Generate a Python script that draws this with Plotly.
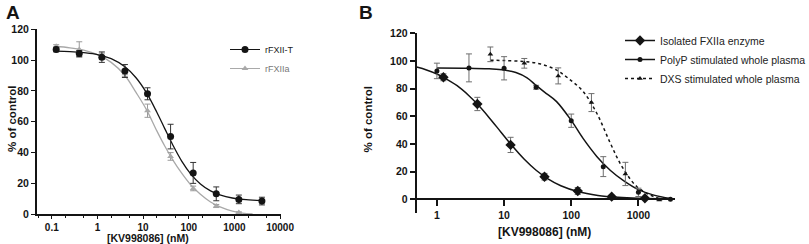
import plotly.graph_objects as go

# ---------------- Panel A data ----------------
a_t_conc = [0.125, 0.4, 1.25, 4, 12.5, 40, 125, 400, 1250, 4000]
a_t_val = [106.9, 104.2, 101.9, 92.9, 78.1, 50.3, 26.7, 13.1, 9.5, 8.4]
a_t_err = [1.5, 2.0, 3.4, 4.2, 3.9, 8.0, 6.8, 4.5, 2.8, 2.5]

a_a_conc = [0.125, 0.4, 1.25, 4, 12.5, 40, 125, 400, 1250]
a_a_val = [109.0, 106.9, 102.5, 91.2, 67.1, 37.4, 16.6, 5.2, 0.9]
a_a_err = [1.0, 5.0, 2.0, 2.0, 4.3, 2.5, 1.5, 1.0, 0.5]

# fitted curves
a_t_fit_x = [0.12, 0.25, 0.5, 1, 2, 4, 7, 12, 20, 30, 45, 70, 110, 180, 300, 500, 900, 1800, 4000]
a_t_fit_y = [105.8, 105.5, 104.8, 103.6, 100.9, 95.6, 88.5, 78.5, 66.1, 55.3, 44.7, 34.4, 26.1, 19.5, 15.0, 12.2, 10.4, 9.3, 8.7]
a_a_fit_x = [0.12, 0.25, 0.5, 1, 2, 4, 7, 12, 20, 30, 45, 70, 110, 180, 300, 500, 900, 1500, 2500]
a_a_fit_y = [109.0, 108.0, 106.5, 103.5, 98.5, 90.0, 79.0, 67.5, 54.0, 44.0, 35.0, 26.5, 19.0, 12.8, 7.8, 4.5, 1.9, 0.6, 0.0]

# ---------------- Panel B data ----------------
iso_conc = [1.25, 4, 12.5, 40, 125, 400, 1250]
iso_val = [88.2, 68.9, 39.3, 16.3, 6.0, 1.9, 0.7]
iso_err = [2.5, 4.8, 5.5, 2.4, 2.5, 1.0, 0.5]

polyp_conc = [1, 3, 10, 30, 100, 300, 1000, 3000]
polyp_val = [92.8, 95.0, 94.7, 81.0, 56.8, 23.6, 5.0, 0.0]
polyp_err = [5.6, 10.1, 8.4, 1.4, 4.8, 7.2, 3.0, 0.0]

dxs_conc = [6.25, 20, 64, 200, 640, 2048]
dxs_val = [104.8, 98.3, 89.2, 69.9, 18.3, -0.5]
dxs_err = [5.3, 3.5, 5.8, 6.5, 8.4, 0.0]

iso_fit_x = [0.5, 0.7, 1, 1.25, 2, 3, 4, 6, 9, 13, 20, 30, 45, 70, 125, 250, 500, 1000, 3000]
iso_fit_y = [95.6, 93.5, 90.6, 88.2, 82.1, 74.9, 68.8, 59.0, 48.5, 39.0, 28.9, 21.0, 14.8, 9.8, 5.6, 2.8, 1.4, 0.7, 0.2]
polyp_fit_x = [1, 3, 6, 10, 15, 22, 30, 40, 60, 100, 150, 240, 380, 600, 1000, 1700, 3000]
polyp_fit_y = [95.0, 94.8, 94.3, 93.5, 91.6, 87.8, 82.3, 77.5, 70.8, 57.0, 44.0, 31.0, 21.0, 13.5, 7.0, 3.0, 0.5]
dxs_fit_x = [6.25, 10, 20, 35, 60, 90, 150, 240, 380, 570, 950, 1500, 2100]
dxs_fit_y = [100.5, 100.3, 99.6, 97.8, 93.5, 87.5, 78.0, 62.2, 40.8, 23.6, 9.1, 3.1, 0.3]

a_ticks_x = [0.1, 1, 10, 100, 1000, 10000]
a_ticks_x_text = ["0.1", "1", "10", "100", "1000", "10000"]
b_ticks_x = [1, 10, 100, 1000]
b_ticks_x_text = ["1", "10", "100", "1000"]
y_ticks = [0, 20, 40, 60, 80, 100, 120]

FONT = "Liberation Sans, Arial, sans-serif"
BLACK = "#141414"
GRAY = "#a9a9a9"

fig = go.Figure()

# ---- Panel A ----
fig.add_trace(go.Scatter(x=a_a_fit_x, y=a_a_fit_y, mode="lines", line=dict(color=GRAY, width=1.3, shape="spline"),
                         showlegend=False, xaxis="x", yaxis="y", hoverinfo="skip"))
fig.add_trace(go.Scatter(x=a_t_fit_x, y=a_t_fit_y, mode="lines", line=dict(color=BLACK, width=1.3, shape="spline"),
                         showlegend=False, xaxis="x", yaxis="y", hoverinfo="skip"))
fig.add_trace(go.Scatter(x=a_a_conc, y=a_a_val, mode="markers",
                         marker=dict(symbol="triangle-up", size=6, color=GRAY),
                         error_y=dict(type="data", array=a_a_err, color="#9a9a9a", thickness=1, width=3),
                         showlegend=False, xaxis="x", yaxis="y", cliponaxis=False))
fig.add_trace(go.Scatter(x=a_t_conc, y=a_t_val, mode="markers",
                         marker=dict(symbol="circle", size=7, color=BLACK),
                         error_y=dict(type="data", array=a_t_err, color="#333333", thickness=1, width=3),
                         showlegend=False, xaxis="x", yaxis="y", cliponaxis=False))
# legend A entries
fig.add_trace(go.Scatter(x=[None], y=[None], mode="lines+markers", name="rFXII-T",
                         line=dict(color=BLACK, width=1), marker=dict(symbol="circle", size=7, color=BLACK),
                         xaxis="x", yaxis="y", legend="legend"))
fig.add_trace(go.Scatter(x=[None], y=[None], mode="lines+markers", name="<span style='color:#777'>rFXIIa</span>",
                         line=dict(color=GRAY, width=1), marker=dict(symbol="triangle-up", size=6, color=GRAY),
                         xaxis="x", yaxis="y", legend="legend"))

# ---- Panel B ----
fig.add_trace(go.Scatter(x=dxs_fit_x, y=dxs_fit_y, mode="lines", line=dict(color=BLACK, width=1.5, dash="3px,3px", shape="spline"),
                         showlegend=False, xaxis="x2", yaxis="y2", hoverinfo="skip"))
fig.add_trace(go.Scatter(x=polyp_fit_x, y=polyp_fit_y, mode="lines", line=dict(color=BLACK, width=1.5, shape="spline"),
                         showlegend=False, xaxis="x2", yaxis="y2", hoverinfo="skip"))
fig.add_trace(go.Scatter(x=iso_fit_x, y=iso_fit_y, mode="lines", line=dict(color=BLACK, width=1.5, shape="spline"),
                         showlegend=False, xaxis="x2", yaxis="y2", hoverinfo="skip"))
fig.add_trace(go.Scatter(x=dxs_conc, y=dxs_val, mode="markers",
                         marker=dict(symbol="triangle-up", size=5, color=BLACK),
                         error_y=dict(type="data", array=dxs_err, color="#6e6e6e", thickness=1, width=3),
                         showlegend=False, xaxis="x2", yaxis="y2", cliponaxis=False))
fig.add_trace(go.Scatter(x=polyp_conc, y=polyp_val, mode="markers",
                         marker=dict(symbol="circle", size=5, color=BLACK),
                         error_y=dict(type="data", array=polyp_err, color="#6e6e6e", thickness=1, width=3),
                         showlegend=False, xaxis="x2", yaxis="y2", cliponaxis=False))
fig.add_trace(go.Scatter(x=iso_conc, y=iso_val, mode="markers",
                         marker=dict(symbol="diamond", size=8, color=BLACK),
                         error_y=dict(type="data", array=iso_err, color="#6e6e6e", thickness=1, width=3),
                         showlegend=False, xaxis="x2", yaxis="y2", cliponaxis=False))
# legend B entries
fig.add_trace(go.Scatter(x=[None], y=[None], mode="lines+markers", name="Isolated FXIIa enzyme",
                         line=dict(color=BLACK, width=1.5), marker=dict(symbol="diamond", size=8, color=BLACK),
                         xaxis="x2", yaxis="y2", legend="legend2"))
fig.add_trace(go.Scatter(x=[None], y=[None], mode="lines+markers", name="PolyP stimulated whole plasma",
                         line=dict(color=BLACK, width=1.5), marker=dict(symbol="circle", size=5, color=BLACK),
                         xaxis="x2", yaxis="y2", legend="legend2"))
fig.add_trace(go.Scatter(x=[None], y=[None], mode="lines+markers", name="DXS stimulated whole plasma",
                         line=dict(color=BLACK, width=1.5, dash="3px,3px"), marker=dict(symbol="triangle-up", size=5, color=BLACK),
                         xaxis="x2", yaxis="y2", legend="legend2"))

W, H = 809, 244
tickfont = dict(family=FONT, size=10.5, color=BLACK, weight="bold")
axis_common = dict(showline=True, linecolor=BLACK, ticks="outside", tickcolor=BLACK,
                   showgrid=False, zeroline=False)


def label(text, x, y, size, angle=0):
    return dict(text=text, x=x / W, y=1 - y / H, xref="paper", yref="paper", showarrow=False,
                xanchor="center", yanchor="middle", textangle=angle,
                font=dict(family=FONT, size=size, color=BLACK))


fig.update_layout(
    width=W, height=H,
    margin=dict(l=0, r=0, t=0, b=0, autoexpand=False),
    paper_bgcolor="white", plot_bgcolor="white",
    font=dict(family=FONT, color=BLACK),
    xaxis=dict(type="log", range=[-1.33, 4.02], domain=[36.7 / W, 281 / W], anchor="y",
               tickvals=a_ticks_x, ticktext=a_ticks_x_text, ticklen=3, tickwidth=1.3, linewidth=1.5,
               minor=dict(ticks="outside", ticklen=2, dtick="D2", tickcolor=BLACK, tickwidth=1),
               tickfont=dict(family=FONT, size=10, color=BLACK, weight="bold"), **axis_common),
    yaxis=dict(range=[0, 120], domain=[(H - 214) / H, (H - 29.3) / H], anchor="x",
               tickvals=y_ticks, ticklen=4, tickwidth=1.3, linewidth=1.5, tickfont=tickfont, **axis_common),
    xaxis2=dict(type="log", range=[-0.301, 3.545], domain=[416.7 / W, 675 / W], anchor="free",
                position=(H - 199.3) / H, tickvals=b_ticks_x, ticktext=b_ticks_x_text,
                ticklen=6, tickwidth=1.5, linewidth=2, tickfont=tickfont, **axis_common),
    yaxis2=dict(range=[-10, 120], domain=[(H - 213.1) / H, (H - 33.3) / H], anchor="x2",
                tickvals=y_ticks, ticklen=5, tickwidth=1.5, linewidth=2, tickfont=tickfont, **axis_common),
    legend=dict(x=225 / W, y=1 - 35 / H, xanchor="left", yanchor="top", bgcolor="rgba(0,0,0,0)",
                font=dict(family=FONT, size=9, color="#222"), tracegroupgap=0),
    legend2=dict(x=620 / W, y=1 - 26 / H, xanchor="left", yanchor="top", bgcolor="rgba(0,0,0,0)",
                 font=dict(family=FONT, size=10.5, color="#222"), tracegroupgap=0),
    annotations=[
        label("<b>A</b>", 12.5, 12, 19),
        label("<b>B</b>", 365.5, 12, 19),
        label("<b>% of control</b>", 12, 119, 11.5, -90),
        label("<b>% of control</b>", 367.5, 120, 11.5, -90),
        label("<b>[KV998086] (nM)</b>", 148, 238, 10.5),
        label("<b>[KV998086] (nM)</b>", 544, 232, 12),
    ],
)

fig.write_html(
    "out.html",
    config={"displayModeBar": False},
    post_script="document.body.style.margin='0';document.body.style.overflow='hidden';",
)
